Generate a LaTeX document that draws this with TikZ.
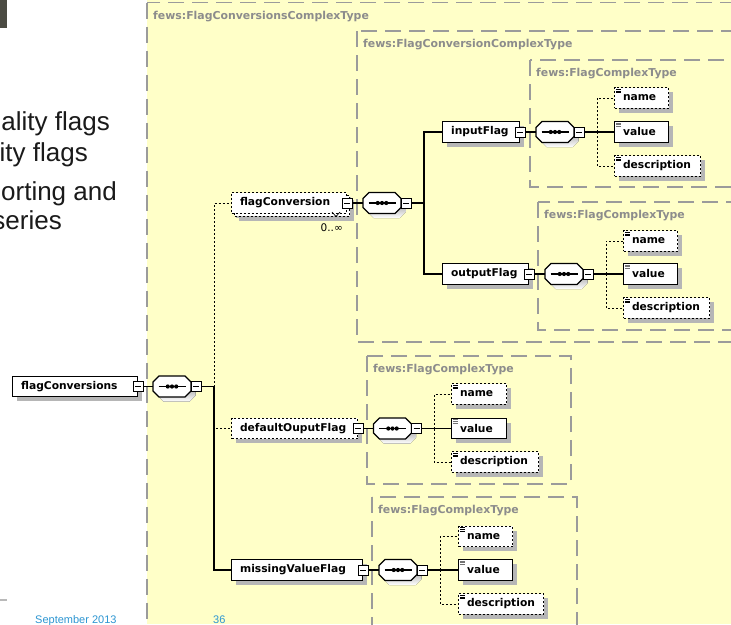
\documentclass[tikz,border=0pt]{standalone}
\usepackage{fontspec}
\setmainfont{Liberation Sans}
\newfontfamily\xsdfont{DejaVu Sans}
\usetikzlibrary{calc}

\definecolor{typebg}{RGB}{255,255,200}
\definecolor{typeline}{RGB}{155,155,155}
\definecolor{typelabel}{RGB}{140,140,140}
\definecolor{shade}{RGB}{182,182,182}
\definecolor{slidetext}{RGB}{26,26,26}
\definecolor{footblue}{RGB}{45,150,210}
\definecolor{tabgray}{RGB}{75,75,67}

% element box: left edge x, centre y, width, text
\newcommand\xbox[6]{\node[#1] (#2) at (#3,#4) {\makebox[#5pt][l]{\hspace{8.5pt}#6}};}
% small "simple content" mark in the top left corner of a leaf element
\newcommand\leafmark[2]{\foreach \k in {0,1,2}
  \draw[#2, line width=0.7pt] ($(#1.north west)+(2,2+1.6*\k)$) -- ++(4.5,0);}
% sequence compositor: octagon plus its collapse square
\newcommand\seqnode[3]{%
  \node[seqbase] (#1) at (#2,#3) {};
  \begin{scope}[shift={(#2,#3)}]
    \fill[shade, shift={(4.5,4.5)}] (-19,-4.5) -- (-13,-10.5) -- (13,-10.5) -- (19,-4.5)
      -- (19,4.5) -- (13,10.5) -- (-13,10.5) -- (-19,4.5) -- cycle;
    \draw[fill=white, line width=1.1pt] (-19,-4.5) -- (-13,-10.5) -- (13,-10.5) -- (19,-4.5)
      -- (19,4.5) -- (13,10.5) -- (-13,10.5) -- (-19,4.5) -- cycle;
    \draw[line width=1.3pt] (-13.5,0) -- (13.5,0);
    \foreach \dx in {-4.2,0,4.2} \fill (\dx,0) circle (2.1);
  \end{scope}
  \node[minus] (#1m) at (#2+24,#3) {};
}

\begin{document}
\begin{tikzpicture}[x=1pt, y=-1pt,
  typebox/.style={draw=typeline, line width=1.4pt, dash pattern=on 16pt off 8pt},
  typelab/.style={anchor=west, inner sep=0pt, text=typelabel,
    font=\xsdfont\bfseries\fontsize{10.9}{13}\selectfont},
  elem/.style={draw, line width=1.2pt, fill=white, anchor=west, inner sep=0pt,
    minimum height=20.5pt, font=\xsdfont\bfseries\fontsize{10.7}{13}\selectfont,
    preaction={fill=shade, transform canvas={xshift=4.5pt, yshift=-4.5pt}}},
  optelem/.style={elem, line width=1pt, dash pattern=on 2pt off 2pt},
  multielem/.style={optelem,
    preaction={fill=shade, transform canvas={xshift=7.5pt, yshift=-7.5pt}},
    preaction={draw=black, fill=white, line width=1pt, dash pattern=on 2pt off 2pt,
      transform canvas={xshift=3pt, yshift=-3pt}}},
  minus/.style={draw, fill=white, line width=0.8pt, minimum size=10pt, inner sep=0pt,
    path picture={\draw[line width=0.8pt]
      ([xshift=-3pt]path picture bounding box.center) --
      ([xshift=3pt]path picture bounding box.center);}},
  seqbase/.style={minimum width=38pt, minimum height=21pt, inner sep=0pt},
  conn/.style={line width=1.2pt},
  optconn/.style={line width=1pt, dash pattern=on 2pt off 2pt},
  bullet/.style={anchor=base east, inner sep=0pt, text=slidetext,
    font=\fontsize{26}{30}\selectfont},
  foot/.style={anchor=base west, inner sep=0pt, text=footblue,
    font=\fontsize{11}{13}\selectfont}
]
\useasboundingbox (0,0) rectangle (731,624);
\clip (0,0) rectangle (731,624);

% slide background and the schema panel
\fill[white] (0,0) rectangle (731,624);
\fill[typebg] (147,0) rectangle (731,624);
\fill[tabgray] (0,0) rectangle (7,28);
\draw[gray!55, line width=2pt] (0,600) -- (7,600);

% slide text
\node[bullet] (b1) at (110,130) {ality flags};
\node[bullet] (b2) at (88,161) {ity flags};
\node[bullet] (b3) at (117,200) {orting and};
\node[bullet] (b4) at (62,229) {series};
\node[foot] (date) at (35,623.5) {September 2013};
\node[foot] (page) at (213,623.5) {36};

% complex type frames
\draw[typebox] (147,2.5) rectangle (800,700);
\node[typelab] (tl0) at (153,17) {fews:FlagConversionsComplexType};
\draw[typebox] (357,31) rectangle (800,342);
\node[typelab] (tl1) at (363,45) {fews:FlagConversionComplexType};
\draw[typebox] (530,60) rectangle (800,187);
\node[typelab] (tl2) at (536,73.5) {fews:FlagComplexType};
\draw[typebox] (538,202) rectangle (800,330);
\node[typelab] (tl3) at (544,215.5) {fews:FlagComplexType};
\draw[typebox] (367,356) rectangle (571,484);
\node[typelab] (tl4) at (373,370) {fews:FlagComplexType};
\draw[typebox] (372,497) rectangle (577,700);
\node[typelab] (tl5) at (378,511) {fews:FlagComplexType};

% root element
\xbox{elem}{root}{12}{386.5}{125}{flagConversions}
\node[minus] (rootm) at (root.east) {};
\seqnode{seq0}{172}{386.5}
\coordinate (t0) at (214,386.5);

% first level
\xbox{multielem}{flagConversion}{231}{203}{115}{flagConversion}
\node[minus] (fcm) at (flagConversion.east) {};
\draw[line width=0.7pt] (332,212) -- (336,216.5) -- (340,212);
\node[anchor=east, inner sep=0pt, font=\xsdfont\fontsize{10.5}{12}\selectfont] (occ) at (343,228) {0..∞};
\seqnode{seq1}{382}{203}
\coordinate (t1) at (424,203);

\xbox{optelem}{defaultOuputFlag}{231}{428.5}{126}{defaultOuputFlag}
\node[minus] (dfm) at (defaultOuputFlag.east) {};
\seqnode{seq4}{392.5}{428.5}
\coordinate (t4) at (434,428.5);

\xbox{elem}{missingValueFlag}{231}{570}{131}{missingValueFlag}
\node[minus] (mvm) at (missingValueFlag.east) {};
\seqnode{seq5}{398}{570}
\coordinate (t5) at (440,570);

% second level
\xbox{elem}{inputFlag}{442}{132}{77}{inputFlag}
\node[minus] (ifm) at (inputFlag.east) {};
\seqnode{seq2}{555}{132}
\coordinate (t2) at (597,132);

\xbox{elem}{outputFlag}{442}{274}{86}{outputFlag}
\node[minus] (ofm) at (outputFlag.east) {};
\seqnode{seq3}{564}{274}
\coordinate (t3) at (606,274);

% leaf elements
\xbox{optelem}{name2}{614}{98}{54}{name}
\xbox{elem}{value2}{614}{132}{54}{value}
\xbox{optelem}{desc2}{614}{166}{86}{description}
\xbox{optelem}{name3}{623}{241}{54}{name}
\xbox{elem}{value3}{623}{274}{54}{value}
\xbox{optelem}{desc3}{623}{308}{86}{description}
\xbox{optelem}{name4}{451}{394}{55}{name}
\xbox{elem}{value4}{451}{428.5}{55}{value}
\xbox{optelem}{desc4}{451}{462}{87}{description}
\xbox{optelem}{name5}{458}{536.5}{54}{name}
\xbox{elem}{value5}{458}{570}{54}{value}
\xbox{optelem}{desc5}{458}{604}{85}{description}
\foreach \i in {2,3,4,5} {
  \leafmark{name\i}{black}
  \leafmark{desc\i}{black}
  \leafmark{value\i}{black!55}
}

% connectors
\draw[conn] (rootm.east) -- (seq0.west);
\draw[conn] (seq0m.east) -- (t0);
\draw[optconn] (t0) |- (flagConversion.west);
\draw[optconn] (t0) |- (defaultOuputFlag.west);
\draw[conn] (t0) |- (missingValueFlag.west);

\draw[conn] (fcm.east) -- (seq1.west);
\draw[conn] (seq1m.east) -- (t1);
\draw[conn] (t1) |- (inputFlag.west);
\draw[conn] (t1) |- (outputFlag.west);

\draw[conn] (dfm.east) -- (seq4.west);
\draw[conn] (mvm.east) -- (seq5.west);
\draw[conn] (ifm.east) -- (seq2.west);
\draw[conn] (ofm.east) -- (seq3.west);

\foreach \s/\t/\i in {seq2/t2/2, seq3/t3/3, seq4/t4/4, seq5/t5/5} {
  \draw[conn] (\s m.east) -- (value\i.west);
  \draw[optconn] (\t) |- (name\i.west);
  \draw[optconn] (\t) |- (desc\i.west);
}
\end{tikzpicture}
\end{document}
